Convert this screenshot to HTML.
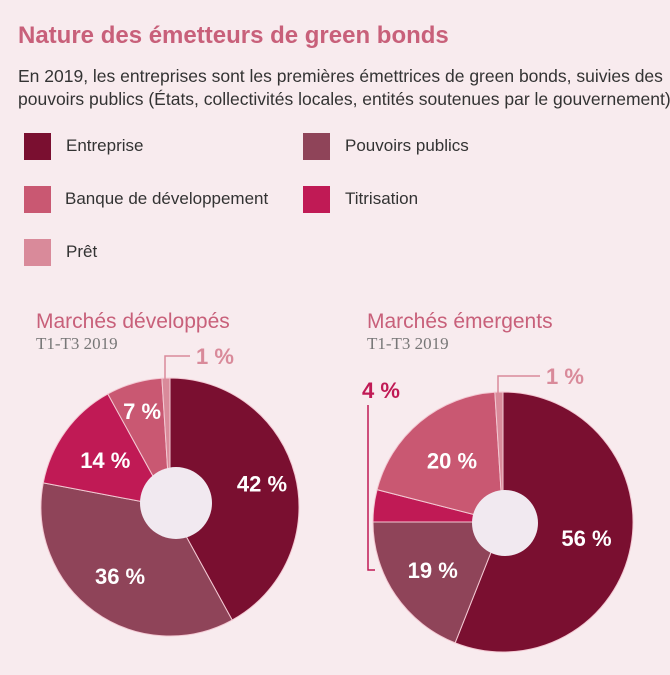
<!DOCTYPE html>
<html><head><meta charset="utf-8">
<style>
html,body{margin:0;padding:0}
body{width:670px;height:675px;background:#f8ebee;font-family:"Liberation Sans Narrow","Liberation Sans",sans-serif;position:relative;overflow:hidden}
.t{position:absolute;white-space:nowrap}
.sq{position:absolute;width:27px;height:27px}
</style></head><body>
<div class="t" style="left:18px;top:22px;font-size:24px;font-weight:bold;color:#c8607a">Nature des émetteurs de green bonds</div>
<div class="t" style="left:18px;top:65px;font-size:17.5px;line-height:23px;color:#333">En 2019, les entreprises sont les premières émettrices de green bonds, suivies des<br>pouvoirs publics (États, collectivités locales, entités soutenues par le gouvernement).</div>
<div>
<div class="sq" style="left:24px;top:133px;background:#7a0f30"></div>
<div class="t" style="left:66px;top:136px;font-size:17px;color:#333">Entreprise</div>
<div class="sq" style="left:303px;top:133px;background:#8f4459"></div>
<div class="t" style="left:345px;top:136px;font-size:17px;color:#333">Pouvoirs publics</div>
<div class="sq" style="left:24px;top:186px;background:#c95872"></div>
<div class="t" style="left:65px;top:189px;font-size:17px;color:#333">Banque de développement</div>
<div class="sq" style="left:303px;top:186px;background:#c01a55"></div>
<div class="t" style="left:345px;top:189px;font-size:17px;color:#333">Titrisation</div>
<div class="sq" style="left:24px;top:239px;background:#d98a9a"></div>
<div class="t" style="left:66px;top:242px;font-size:17px;color:#333">Prêt</div>
</div>
<div class="t" style="left:36px;top:310px;font-size:21px;color:#c8607a">Marchés développés</div>
<div class="t" style="left:36px;top:334px;font-size:17px;color:#777;font-family:'Liberation Serif',serif">T1-T3 2019</div>
<div class="t" style="left:367px;top:310px;font-size:21px;color:#c8607a">Marchés émergents</div>
<div class="t" style="left:367px;top:334px;font-size:17px;color:#777;font-family:'Liberation Serif',serif">T1-T3 2019</div>
<svg id="pies" width="670" height="675" style="position:absolute;left:0;top:0"></svg>
<script>
const categories=["Entreprise","Pouvoirs publics","Titrisation","Banque de développement","Prêt"];
const developedValues=[42,36,14,7,1];
const emergingValues=[56,19,4,20,1];
const developedLabels=["42 %","36 %","14 %","7 %","1 %"];
const emergingLabels=["56 %","19 %","4 %","20 %","1 %"];
const colors=["#7a0f30","#8f4459","#c01a55","#c95872","#d98a9a"];
const NS="http://www.w3.org/2000/svg";
const svg=document.getElementById('pies');
function mk(tag,attrs){const e=document.createElementNS(NS,tag);for(const k in attrs)e.setAttribute(k,attrs[k]);svg.appendChild(e);return e;}
function drawPie(id,values,labels,cx,cy,r,hole,opts){
  const total=values.reduce((a,b)=>a+b,0);
  let acc=0;
  values.forEach((v,i)=>{
    const a0=acc/total*2*Math.PI,a1=(acc+v)/total*2*Math.PI;acc+=v;
    const x0=cx+r*Math.sin(a0),y0=cy-r*Math.cos(a0),x1=cx+r*Math.sin(a1),y1=cy-r*Math.cos(a1);
    const large=(a1-a0)>Math.PI?1:0;
    const p=mk('path',{d:`M${cx},${cy}L${x0},${y0}A${r},${r} 0 ${large} 1 ${x1},${y1}Z`,fill:colors[i],stroke:'#f3c9d3','stroke-width':1});
    
    
    const mid=(a0+a1)/2;
    let lr=opts.lr[i];
    const tx=cx+lr*Math.sin(mid),ty=cy-lr*Math.cos(mid);
    if(opts.outside[i]){
      const o=opts.outside[i];
      const ln=mk('polyline',{points:o.pts,fill:'none',stroke:colors[i],'stroke-width':1.5});
      
      
      const t=mk('text',{x:o.x,y:o.y,fill:colors[i],'font-size':22,'font-weight':'bold','font-family':'Liberation Sans Narrow, Liberation Sans, sans-serif'});
      t.textContent=labels[i];
      
      
    }else{
      const t=mk('text',{x:tx,y:ty+8,fill:'#fff','text-anchor':'middle','font-size':22,'font-weight':'bold','font-family':'Liberation Sans Narrow, Liberation Sans, sans-serif'});
      t.textContent=labels[i];
      
      
    }
  });
  const h=mk('circle',{cx:hole[0],cy:hole[1],r:hole[2],fill:'#f1e9f0'});
  
  
}
drawPie('developed-pie',developedValues,developedLabels,170,507,129,[176,503,36],
 {lr:[95,85,80,100,0],outside:{4:{pts:'165,379 165,356 190,356',x:196,y:364}}});
drawPie('emerging-pie',emergingValues,emergingLabels,503,522,130,[505,523,33],
 {lr:[85,85,0,80,0],outside:{2:{pts:'375,570 368,570 368,405',x:362,y:398},4:{pts:'498,393 498,376 540,376',x:546,y:384}}});
</script>
</body></html>
